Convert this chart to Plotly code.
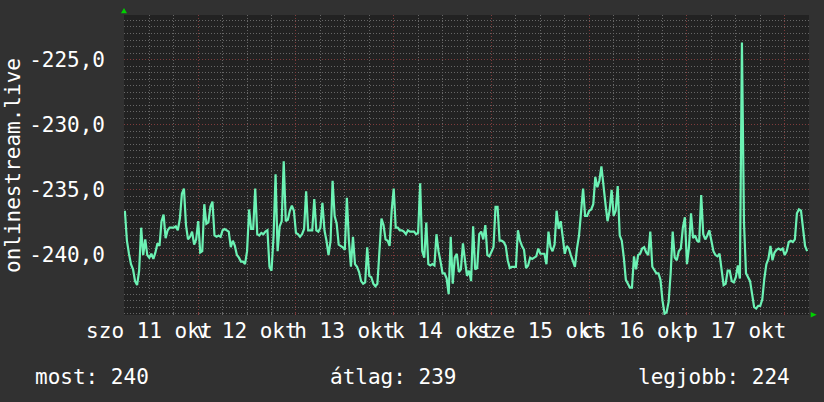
import plotly.graph_objects as go
import pandas as pd
import numpy as np

# ---- data (30-minute samples starting 2025-10-11 06:00) ----
start_time = "2025-10-11 06:00"
values = [
    -236.6, -238.9, -239.9, -240.7, -241.1, -242.0, -242.3, -241.2, -237.9, -240.0,
    -238.8, -240.0, -240.2, -239.9, -240.3, -239.8, -239.1, -239.3, -237.4, -236.9,
    -238.7, -238.1, -237.9, -237.9, -237.9, -237.8, -238.1, -237.2, -235.3, -234.9,
    -237.7, -238.8, -238.6, -238.2, -239.2, -238.8, -237.4, -239.8, -239.7, -236.1,
    -237.6, -237.5, -236.3, -235.9, -238.5, -238.6, -238.5, -238.6, -238.1, -238.0,
    -238.1, -238.2, -239.4, -238.9, -239.3, -240.0, -240.2, -240.5, -240.5, -240.7,
    -239.7, -236.5, -238.0, -238.0, -234.9, -238.4, -238.5, -238.3, -238.4, -238.2,
    -238.1, -240.9, -241.2, -238.6, -233.8, -239.7, -237.8, -237.4, -232.8, -237.4,
    -237.3, -236.6, -236.2, -236.6, -238.3, -238.4, -238.6, -238.4, -238.0, -235.1,
    -238.1, -238.1, -238.1, -235.7, -238.1, -238.2, -237.9, -236.0, -238.1, -238.9,
    -240.0, -238.9, -234.3, -237.0, -237.6, -239.2, -239.3, -239.4, -239.6, -235.6,
    -238.9, -240.9, -238.6, -240.7, -240.9, -241.3, -242.0, -242.2, -242.1, -239.4,
    -241.6, -241.7, -242.2, -242.4, -242.2, -239.4, -237.2, -237.7, -238.8, -238.9,
    -239.3, -236.6, -234.9, -237.9, -237.9, -238.1, -238.1, -238.2, -238.4, -238.1,
    -238.2, -238.2, -238.2, -238.4, -238.3, -234.5, -239.7, -240.2, -237.5, -240.7,
    -240.8, -240.7, -240.8, -238.4, -239.7, -240.5, -241.4, -241.4, -241.8, -243.0,
    -238.6, -242.2, -240.2, -239.9, -241.3, -241.1, -239.1, -240.4, -241.6, -241.2,
    -242.0, -237.8, -241.1, -241.0, -238.4, -238.2, -238.8, -237.7, -240.0, -240.1,
    -239.8, -239.4, -236.3, -236.3, -238.9, -238.9, -239.0, -239.3, -240.4, -241.0,
    -240.9, -240.9, -240.9, -238.1, -238.9, -239.3, -239.6, -241.0, -240.8, -240.2,
    -240.3, -240.2, -240.1, -239.5, -239.9, -239.9, -239.9, -240.7, -238.2, -239.4,
    -239.7, -239.2, -236.6, -238.0, -237.4, -238.6, -239.9, -239.3, -239.5, -240.0,
    -240.5, -240.9, -239.5, -238.5, -236.7, -234.9, -237.0, -237.0, -236.6, -236.5,
    -236.1, -234.0, -234.8, -234.3, -233.2, -234.9, -236.1, -237.4, -236.6, -235.0,
    -237.0, -236.6, -234.7, -238.5, -238.9, -240.2, -241.9, -242.2, -242.5, -242.5,
    -240.1, -241.1, -240.0, -239.9, -239.5, -239.4, -239.8, -240.0, -238.2, -240.9,
    -241.2, -241.4, -241.4, -241.9, -243.5, -244.5, -244.4, -243.6, -241.4, -238.2,
    -240.2, -240.4, -239.7, -239.5, -237.9, -237.1, -240.7, -239.4, -236.8, -238.7,
    -238.5, -238.9, -239.0, -235.4, -238.4, -238.8, -238.5, -238.1, -238.9, -239.7,
    -240.0, -240.1, -239.9, -241.1, -242.3, -242.2, -241.2, -241.2, -242.0, -242.1,
    -241.7, -240.8, -241.8, -223.7, -237.5, -241.4, -241.7, -242.0, -243.0, -244.0,
    -244.1, -243.9, -243.9, -243.4, -241.8, -240.7, -240.3, -239.3, -240.4, -239.8,
    -239.6, -239.5, -239.6, -239.5, -240.0, -239.7, -239.0, -238.9, -239.0, -238.8,
    -236.8, -236.5, -236.6, -238.1, -239.3, -239.7,
]
times = pd.date_range(start_time, periods=len(values), freq="30min")

day_labels = ["szo 11 okt", "v 12 okt", "h 13 okt", "k 14 okt",
              "sze 15 okt", "cs 16 okt", "p 17 okt"]
label_times = pd.date_range("2025-10-11 12:00", periods=7, freq="D")
midnights = pd.date_range("2025-10-11", periods=8, freq="D")
y_tickvals = [-240, -235, -230, -225]
y_ticktext = ["-240,0", "-235,0", "-230,0", "-225,0"]
x_range = ["2025-10-11 05:47", "2025-10-18 05:58"]
y_range = [-244.6, -221.58]
y_title = "onlinestream.live"

most = round(-values[-1])
atlag = round(-float(np.mean(values)))
legjobb = round(-max(values))

# ---- style ----
FONT = "DejaVu Sans Mono"
PAPER = "#313131"
PLOT = "#222222"
LINE = "#6CF2B4"
MINOR = "#666666"
MAJOR = "#7e3c3c"
DOT = "1px,2px"

fig = go.Figure()
fig.add_trace(go.Scatter(x=times, y=values, mode="lines",
                         line=dict(color=LINE, width=2.2, shape="linear"),
                         hoverinfo="skip", showlegend=False))
fig.add_trace(go.Scatter(x=[times[0]], y=[values[0]], xaxis="x2", mode="markers",
                         marker=dict(opacity=0), hoverinfo="skip", showlegend=False))

fig.update_layout(
    template="none",
    width=824, height=402, autosize=False,
    margin=dict(l=124, r=15, t=15, b=87, pad=0),
    paper_bgcolor=PAPER, plot_bgcolor=PLOT,
    font=dict(family=FONT, color="#ffffff", size=21),
    xaxis=dict(type="date", range=x_range, tickmode="array", tickvals=midnights,
               automargin=False,
               showticklabels=False, showgrid=True, gridcolor=MAJOR, griddash=DOT,
               gridwidth=1, ticks="inside", ticklen=3, tickcolor=MAJOR,
               zeroline=False, showline=False,
               minor=dict(dtick=6 * 3600 * 1000, tick0="2025-10-11", showgrid=True,
                          gridcolor=MINOR, griddash=DOT, gridwidth=1,
                          ticks="inside", ticklen=3, tickcolor=MINOR)),
    xaxis2=dict(type="date", overlaying="x", matches="x", anchor="y", side="bottom",
                automargin=False,
                tickmode="array", tickvals=label_times, ticktext=day_labels,
                tickangle=0, showgrid=False, ticks="", zeroline=False, showline=False,
                tickfont=dict(family=FONT, size=21, color="#ffffff"),
                ticklabelstandoff=1),
    yaxis=dict(range=y_range, tickmode="array", tickvals=y_tickvals, ticktext=y_ticktext,
               automargin=False,
               showgrid=True, gridcolor=MAJOR, griddash=DOT, gridwidth=1,
               ticks="", zeroline=False, showline=False,
               tickfont=dict(family=FONT, size=21, color="#ffffff"),
               ticklabelstandoff=18,
               minor=dict(dtick=0.5, tick0=-240, showgrid=True, gridcolor=MINOR,
                          griddash=DOT, gridwidth=1)),
)

# axis arrows (rrdtool style)
fig.add_shape(type="path", xref="paper", yref="paper",
              path="M -0.0044,1.0057 L 0.0044,1.0057 L 0.0,1.0233 Z",
              fillcolor="#00d000", line=dict(width=0), layer="above")
fig.add_shape(type="path", xref="paper", yref="paper",
              path="M 1.0025,0.0100 L 1.0025,-0.0083 L 1.0112,0.0008 Z",
              fillcolor="#00d000", line=dict(width=0), layer="above")

fig.add_annotation(text=y_title, xref="paper", yref="paper", x=(13 - 124) / 685, y=0.5,
                   textangle=-90, showarrow=False, xanchor="center", yanchor="middle",
                   font=dict(family=FONT, size=21, color="#ffffff"))
fig.add_annotation(text=f"most: {most}", xref="paper", yref="paper",
                   x=(33 - 124) / 685, y=-0.2067, xanchor="left", yanchor="middle",
                   showarrow=False, font=dict(family=FONT, size=21, color="#ffffff"))
fig.add_annotation(text=f"átlag: {atlag}", xref="paper", yref="paper",
                   x=(393 - 124) / 685, y=-0.2067, xanchor="center", yanchor="middle",
                   showarrow=False, font=dict(family=FONT, size=21, color="#ffffff"))
fig.add_annotation(text=f"legjobb: {legjobb}", xref="paper", yref="paper",
                   x=(792 - 124) / 685, y=-0.2067, xanchor="right", yanchor="middle",
                   showarrow=False, font=dict(family=FONT, size=21, color="#ffffff"))

fig.write_html("out.html", config={"displayModeBar": False},
               post_script="document.body.style.margin='0px';document.body.style.background='#313131';")
